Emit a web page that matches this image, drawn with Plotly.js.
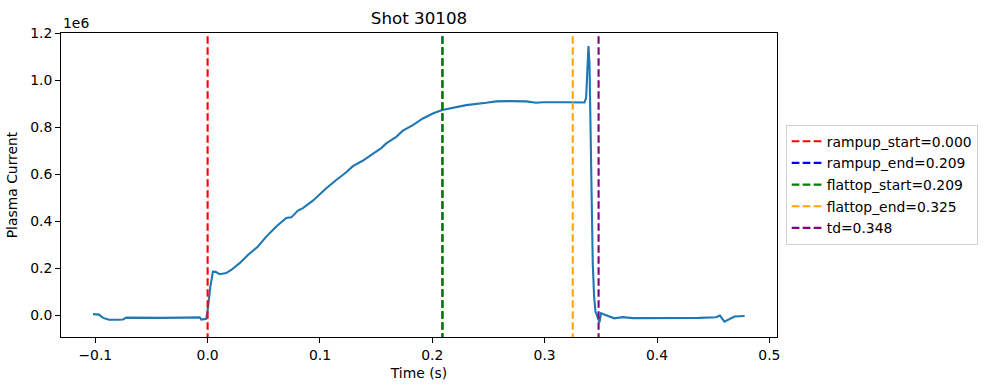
<!DOCTYPE html>
<html>
<head>
<meta charset="utf-8">
<script src="https://cdn.plot.ly/plotly-3.0.1.min.js"></script>
<style>
  html, body { margin: 0; padding: 0; background: #fff; }
  #chart { width: 989px; height: 390px; }
</style>
</head>
<body>
<div id="chart"></div>
<script>
// Time (s)
const time = [-0.102, -0.0967, -0.093, -0.0878, -0.080, -0.0754, -0.0723, -0.06, -0.0427, -0.02, -0.007, -0.0056, -0.0012,
  0.0003, 0.0024, 0.0047, 0.0071, 0.0107, 0.0166, 0.021, 0.0285, 0.0359, 0.0448, 0.0522, 0.0611, 0.070, 0.0745, 0.0804,
  0.0848, 0.0937, 0.1056, 0.1145, 0.1234, 0.1293, 0.138, 0.147, 0.1543, 0.159, 0.1679, 0.1738, 0.1797, 0.1827, 0.1916,
  0.2004, 0.2088, 0.2183, 0.2302, 0.248, 0.2569, 0.2687, 0.2835, 0.2924, 0.2983, 0.319, 0.3354, 0.3369, 0.3378, 0.339,
  0.3399, 0.3407, 0.3416, 0.3428, 0.344, 0.3452, 0.3464, 0.3476, 0.3488, 0.3502, 0.3517, 0.3547, 0.3576, 0.362, 0.3695,
  0.3784, 0.408, 0.4377, 0.4525, 0.456, 0.46, 0.4644, 0.4689, 0.478];
// Plasma current in units of 1e6
const current = [0.004, 0.002, -0.012, -0.020, -0.020, -0.019, -0.011, -0.012, -0.012, -0.011, -0.010, -0.019, -0.016,
  0.03, 0.12, 0.185, 0.184, 0.174, 0.179, 0.192, 0.221, 0.256, 0.292, 0.334, 0.377, 0.413, 0.416, 0.445,
  0.455, 0.487, 0.540, 0.575, 0.608, 0.634, 0.657, 0.686, 0.710, 0.731, 0.759, 0.785, 0.800, 0.809, 0.837,
  0.858, 0.873, 0.882, 0.894, 0.904, 0.910, 0.911, 0.910, 0.904, 0.906, 0.906, 0.905, 0.925, 1.0, 1.145,
  1.07, 0.788, 0.504, 0.221, 0.079, 0.015, 0.001, -0.02, -0.031, 0.008, 0.005, -0.003, -0.006, -0.014, -0.009,
  -0.013, -0.014, -0.012, -0.009, -0.002, -0.028, -0.017, -0.006, -0.004];

// Event markers
const eventNames = ["rampup_start", "rampup_end", "flattop_start", "flattop_end", "td"];
const eventTimes = [0.000, 0.209, 0.209, 0.325, 0.348];
const eventColors = ["red", "blue", "green", "orange", "purple"];

const xRange = [-0.1305, 0.5068];
const yRange = [-0.0934, 1.201];

const traces = [{
  x: time, y: current, type: "scatter", mode: "lines",
  line: { color: "#1f77b4", width: 2.1 },
  showlegend: false, hoverinfo: "skip"
}];
eventNames.forEach((n, i) => {
  traces.push({
    x: [eventTimes[i], eventTimes[i]],
    y: [yRange[0] - 1, yRange[1] + 1],
    type: "scatter", mode: "lines",
    name: n + "=" + eventTimes[i].toFixed(3),
    legendgroup: "g" + i,
    line: { color: eventColors[i], width: 2.1, dash: "7.7px,3.3px" }
  });
});

const font = { family: "DejaVu Sans, sans-serif", size: 13.9, color: "#000" };

const layout = {
  width: 989, height: 390,
  margin: { l: 61, r: 211, t: 33, b: 53, pad: 0 },
  paper_bgcolor: "#fff", plot_bgcolor: "#fff",
  font: font,
  title: { text: "Shot 30108", font: { family: "DejaVu Sans, sans-serif", size: 16.7, color: "#000" },
           x: 0.5, xref: "paper", xanchor: "center", y: 1 - 18 / 390, yref: "container", yanchor: "middle" },
  xaxis: {
    range: xRange, showgrid: false, zeroline: false,
    showline: true, linecolor: "#000", linewidth: 1, mirror: true,
    ticks: "outside", ticklen: 5, tickwidth: 1, tickcolor: "#000",
    tickvals: [-0.1, 0, 0.1, 0.2, 0.3, 0.4, 0.5], tickformat: ".1f",
    tickfont: font,
    title: { text: "Time (s)", font: font, standoff: 6 }
  },
  yaxis: {
    range: yRange, showgrid: false, zeroline: false,
    showline: true, linecolor: "#000", linewidth: 1, mirror: true,
    ticks: "outside", ticklen: 5, tickwidth: 1, tickcolor: "#000",
    tickvals: [0, 0.2, 0.4, 0.6, 0.8, 1.0, 1.2], tickformat: ".1f",
    tickfont: font,
    title: { text: "Plasma Current", font: font, standoff: 9 }
  },
  legend: {
    x: (785.7 - 61) / 717, xanchor: "left",
    y: (337 - 124.7) / 304, yanchor: "top",
    bgcolor: "rgba(255,255,255,0.8)", bordercolor: "#d0d0d0", borderwidth: 1,
    font: font, traceorder: "grouped", tracegroupgap: 0.6
  },
  annotations: [{
    text: "1e6", xref: "paper", yref: "paper", x: 0, y: 1,
    xanchor: "left", yanchor: "bottom", showarrow: false, font: font, yshift: 0
  }]
};

Plotly.newPlot("chart", traces, layout, { displayModeBar: false, staticPlot: true });
</script>
</body>
</html>
